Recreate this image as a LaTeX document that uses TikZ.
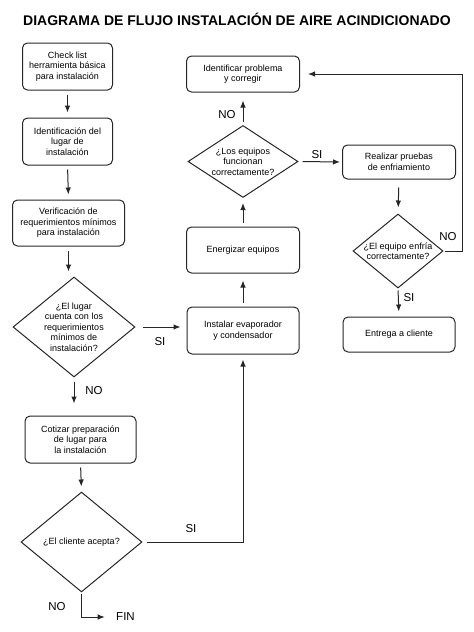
\documentclass[tikz,border=0pt]{standalone}
\usepackage{fontspec}
\setmainfont{Liberation Sans}
\usetikzlibrary{shapes.geometric,arrows.meta}
\tikzset{
  procbox/.style  = {shape=rectangle, rounded corners=5pt, draw,
          align=center, inner sep=2pt},
  decision/.style = {shape=diamond, draw, align=center, inner sep=-10pt},
  answer/.style   = {font=\fontsize{11.5}{12}\selectfont, inner sep=1pt},
  title/.style    = {font=\fontsize{14}{16}\selectfont\bfseries},
  flow/.style     = {draw, -{Latex[length=7pt,width=5.5pt]}, shorten <=4pt, shorten >=5pt}
}

\begin{document}
\begin{tikzpicture}
  [
    x                 = 1pt,
    y                 = -1pt,
    line width        = 1pt,
    draw              = black!85,
    every node/.style = {font=\fontsize{9}{10.5}\selectfont}
  ]
  \useasboundingbox (0,0) rectangle (474,632);
  \node [title] (titulo) at (237,19) {DIAGRAMA DE FLUJO INSTALACIÓN DE AIRE ACINDICIONADO};

  \node [procbox, minimum width=90pt, minimum height=47pt] (check) at (67.5,66.5)
    {Check list\\herramienta básica\\para instalación};
  \node [procbox, minimum width=90pt, minimum height=47pt] (ident) at (67.5,141.5)
    {Identificación del\\lugar de\\instalación};
  \node [procbox, minimum width=112pt, minimum height=46pt] (verif) at (68.5,223)
    {Verificación de\\requerimientos mínimos\\para instalación};
  \node [decision, minimum width=122pt, minimum height=100pt] (lugar) at (74,327)
    {¿El lugar\\cuenta con los\\requerimientos\\mínimos de\\instalación?};
  \node [procbox, minimum width=111pt, minimum height=47pt] (cotizar) at (80.5,439.5)
    {Cotizar preparación\\de lugar para\\la instalación};
  \node [decision, minimum width=121pt, minimum height=100pt] (acepta) at (81.5,542)
    {¿El cliente acepta?};
  \node [answer] (fin) at (125.5,617) {FIN};

  \node [procbox, minimum width=112pt, minimum height=47pt] (instalar) at (243,330.5)
    {Instalar evaporador\\y condensador};
  \node [procbox, minimum width=113pt, minimum height=46pt] (energ) at (243,250)
    {Energizar equipos};
  \node [decision, minimum width=110pt, minimum height=72pt] (funcionan) at (243,161.5)
    {¿Los equipos\\funcionan\\correctamente?};
  \node [procbox, minimum width=113pt, minimum height=36pt] (corregir) at (243,74)
    {Identificar problema\\y corregir};
  \node [procbox, minimum width=113pt, minimum height=34pt] (pruebas) at (399,162)
    {Realizar pruebas\\de enfriamiento};
  \node [decision, minimum width=90pt, minimum height=74pt] (enfria) at (398,251)
    {¿El equipo enfría\\correctamente?};
  \node [procbox, minimum width=112pt, minimum height=35pt] (entrega) at (399,334.5)
    {Entrega a cliente};
  \coordinate (vuelta) at (462,72);

  \draw [flow] (check.south) -- (ident.north);
  \draw [flow] (ident.south) -- (verif.north);
  \draw [flow] (verif.south) -- (verif.south |- lugar.north);
  \draw [flow, shorten >=12pt] (lugar.south) -- (lugar.south |- cotizar.north);
  \draw [flow] (cotizar.south) -- (acepta.north);
  \draw [flow, shorten <=7pt, shorten >=6pt] (lugar.east) -- (lugar.east -| instalar.west);
  \draw [flow] (acepta.east) -| (instalar.south);
  \draw [flow, shorten <=1pt, shorten >=10pt] (acepta.south) |- (fin.west);
  \draw [flow, shorten >=7pt] (instalar.north) -- (energ.south);
  \draw [flow] (energ.north) -- (funcionan.south);
  \draw [flow, shorten <=3pt, shorten >=8pt] (funcionan.north) -- (corregir.south);
  \draw [flow, shorten >=2pt] (funcionan.east) -- (pruebas.west);
  \draw [flow, shorten <=8pt, shorten >=6pt] (pruebas.south) -- (enfria.north);
  \draw [flow, shorten <=2pt] (enfria.south) -- (entrega.north);
  \draw [flow, shorten <=1pt, shorten >=8pt] (enfria.east) -- (enfria.east -| vuelta) |- (corregir.east);

  \node [answer] (noLugar) at (94,391) {NO};
  \node [answer] (siLugar) at (160,342) {SI};
  \node [answer] (siAcepta) at (191,529) {SI};
  \node [answer] (noAcepta) at (57,607) {NO};
  \node [answer] (noFunc) at (227,115) {NO};
  \node [answer] (siFunc) at (317,155) {SI};
  \node [answer] (noEnfria) at (448,237) {NO};
  \node [answer] (siEnfria) at (409,298) {SI};
\end{tikzpicture}
\end{document}
